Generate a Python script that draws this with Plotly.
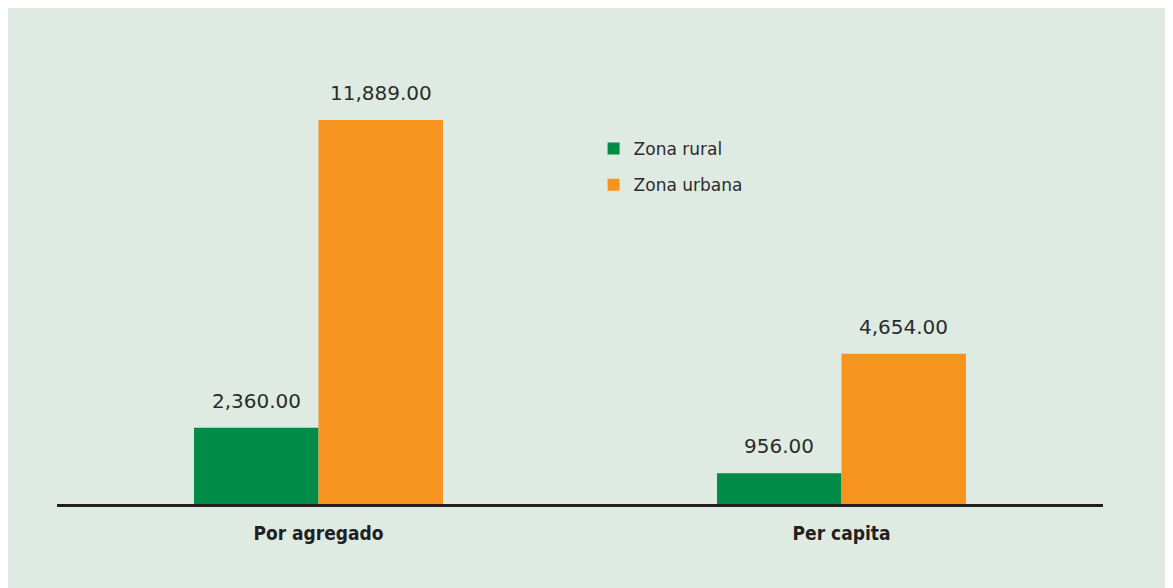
import plotly.graph_objects as go

categories = ["Por agregado", "Per capita"]
rural = [2360.00, 956.00]
urbana = [11889.00, 4654.00]
series_names = ["Zona rural", "Zona urbana"]

GREEN = "#008b46"
ORANGE = "#f7941f"
BG = "#dfebe2"
TXT = "#2b2b2b"

fig = go.Figure()
fig.add_trace(go.Bar(x=categories, y=rural, name=series_names[0], marker_color=GREEN,
                     marker_line_width=0, offsetgroup="r", legendgroup="r"))
fig.add_trace(go.Bar(x=categories, y=urbana, name=series_names[1], marker_color=ORANGE,
                     marker_line_width=0, offsetgroup="u", legendgroup="u"))

annotations = []
for vals, off in ((rural, -0.119), (urbana, 0.119)):
    for i, (c, v) in enumerate(zip(categories, vals)):
        annotations.append(dict(x=i + off, y=v, xref="x", yref="y", text=f"{v:,.2f}",
                                showarrow=False, yanchor="bottom", yshift=13,
                                font=dict(family="DejaVu Sans", size=20, color=TXT)))

fig.update_layout(
    width=1173, height=588,
    margin=dict(l=49, r=78, t=52, b=92),
    paper_bgcolor=BG,
    plot_bgcolor="rgba(0,0,0,0)",
    barmode="group",
    bargap=0.524,
    bargroupgap=0,
    showlegend=True,
    legend=dict(x=0.513, y=0.840, xanchor="left", yanchor="top",
                bgcolor="rgba(0,0,0,0)", itemwidth=30, tracegroupgap=11,
                font=dict(family="DejaVu Sans", size=17, color=TXT)),
    xaxis=dict(type="category", range=[-0.5, 1.5], showline=True, linewidth=3,
               linecolor="#231f20", ticks="", showgrid=False, zeroline=False,
               ticklabelstandoff=10,
               tickfont=dict(family="DejaVu Sans Condensed", size=19, color="#231f20",
                             weight="bold")),
    yaxis=dict(visible=False, range=[0, 13750], showgrid=False, zeroline=False),
    annotations=annotations,
)

fig.write_html("out.html")
